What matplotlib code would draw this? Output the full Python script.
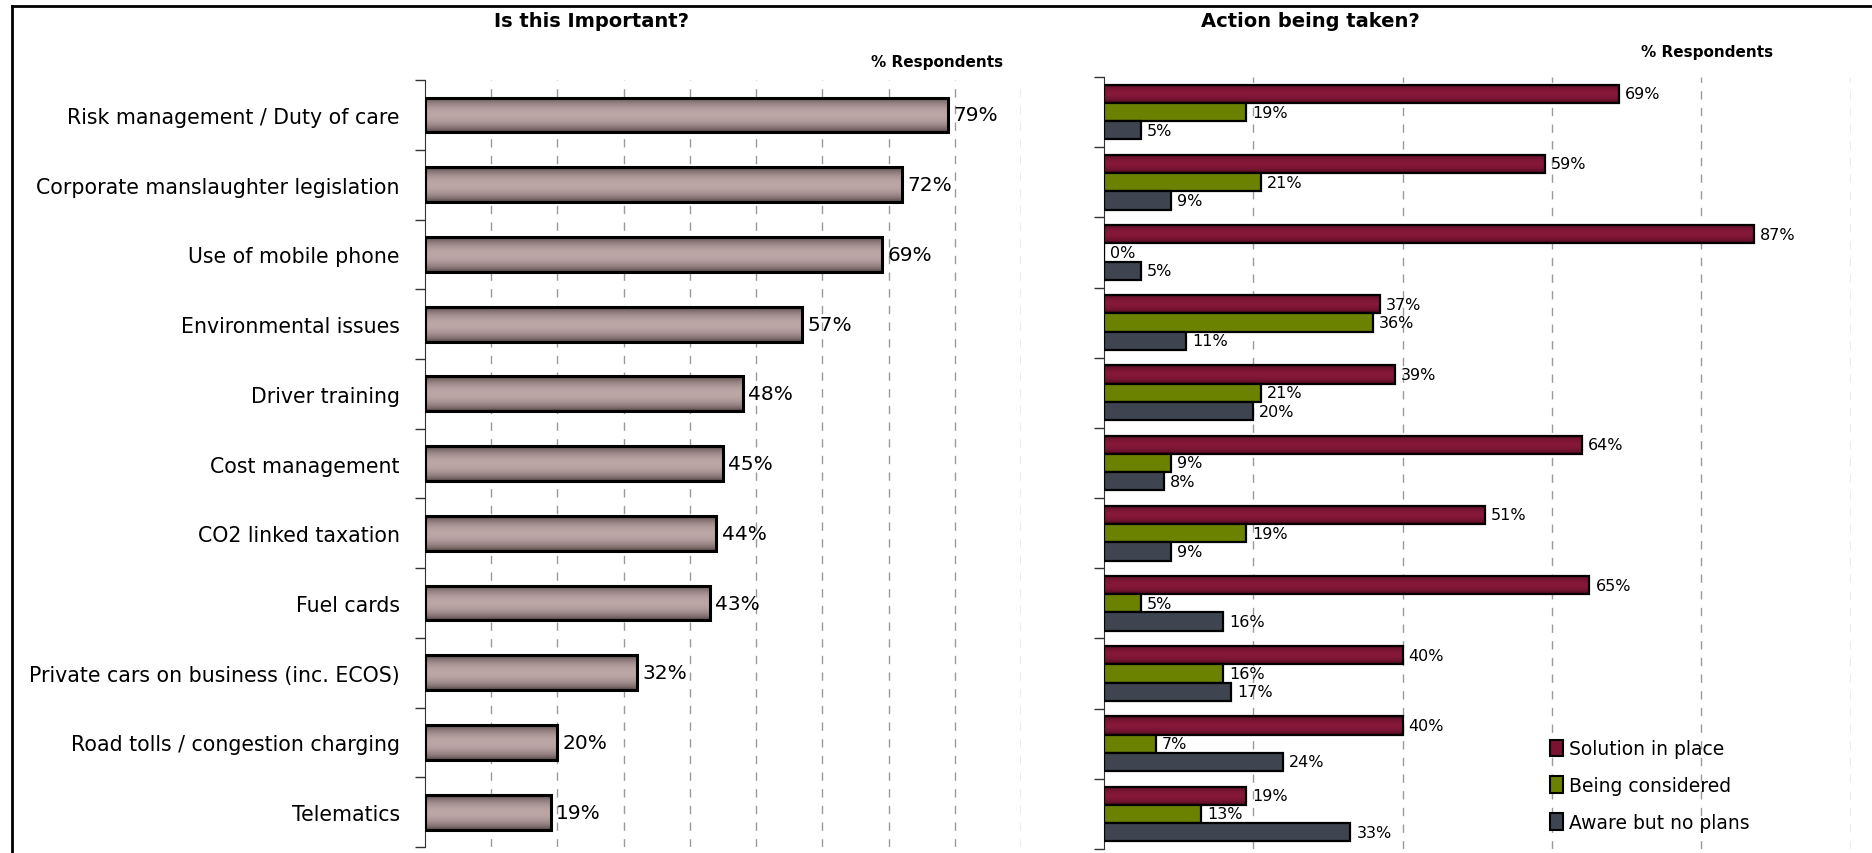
import numpy as np
import matplotlib
matplotlib.use('Agg')
import matplotlib.pyplot as plt
from matplotlib.patches import Rectangle
from matplotlib.lines import Line2D

plt.rcParams['font.family'] = ['Liberation Sans Narrow', 'DejaVu Sans']

# Survey data, in % of respondents
categories = ['Risk management / Duty of care', 'Corporate manslaughter legislation',
              'Use of mobile phone', 'Environmental issues', 'Driver training',
              'Cost management', 'CO2 linked taxation', 'Fuel cards',
              'Private cars on business (inc. ECOS)', 'Road tolls / congestion charging',
              'Telematics']
importance = [79, 72, 69, 57, 48, 45, 44, 43, 32, 20, 19]
solution_in_place = [69, 59, 87, 37, 39, 64, 51, 65, 40, 40, 19]
being_considered = [19, 21, 0, 36, 21, 9, 19, 5, 16, 7, 13]
no_plans = [5, 9, 5, 11, 20, 8, 9, 16, 17, 24, 33]
series_names = ['Solution in place', 'Being considered', 'Aware but no plans']

RED = '#7b1230'
GREEN = '#6a8200'
SLATE = '#3e4550'


def gradient(dark, light, n=64, power=0.6):
    # vertical shading: dark at the edges, light in the middle
    t = np.linspace(0, 1, n)
    f = np.sin(np.pi * t) ** power
    d = np.array(matplotlib.colors.to_rgb(dark))
    l = np.array(matplotlib.colors.to_rgb(light))
    return (d[None, :] * (1 - f[:, None]) + l[None, :] * f[:, None])[:, None, :]


def shaded_bar(ax, y, width, height, dark, light, lw=1.6):
    if width <= 0:
        return
    ax.imshow(gradient(dark, light), extent=[0, width, y + height / 2, y - height / 2],
              aspect='auto', interpolation='bilinear', zorder=2)
    ax.add_patch(Rectangle((0, y - height / 2), width, height, fill=False,
                           edgecolor='black', lw=lw, zorder=3))


def style_axes(ax, xmax, step):
    n = len(categories)
    ax.set_xlim(0, xmax)
    ax.set_ylim(n - 0.5, -0.5)
    for s in ['top', 'right', 'bottom']:
        ax.spines[s].set_visible(False)
    ax.spines['left'].set_color('#333333')
    ax.set_xticks(np.arange(step, xmax + 0.1, step))
    ax.tick_params(axis='x', length=0, labelbottom=False)
    ax.xaxis.grid(True, linestyle=(0, (6, 6)), color='#9a9a9a', lw=1.0)
    ax.set_axisbelow(True)
    ax.set_yticks(np.arange(-0.5, n, 1.0), minor=True)
    ax.tick_params(axis='y', which='minor', length=7, width=1, color='#333333')


fig = plt.figure(figsize=(18.72, 8.54), dpi=100)

# frame along top and left edges of the figure
fig.add_artist(Line2D([0.0064, 1.0], [0.9918, 0.9918], color='black', lw=2))
fig.add_artist(Line2D([0.0064, 0.0064], [0.0, 0.9918], color='black', lw=2))

# Left: importance
ax1 = fig.add_axes([0.227, 0.007, 0.3184, 0.898])
y = np.arange(len(categories))
for yi, v in zip(y, importance):
    shaded_bar(ax1, yi, v, 0.5, '#463838', '#bca6a6', lw=2.2)
    ax1.text(v + 0.8, yi, f'{v}%', va='center', ha='left', fontsize=14.5)
style_axes(ax1, 90, 10)
ax1.set_yticks(y)
ax1.set_yticklabels(categories, fontsize=14.8)
ax1.tick_params(axis='y', which='major', length=0, pad=18)
fig.text(0.316, 0.975, 'Is this Important?', ha='center', va='center',
         fontsize=14, fontweight='bold')
fig.text(0.536, 0.927, '% Respondents', ha='right', va='center',
         fontsize=11, fontweight='bold')

# Right: action being taken
ax2 = fig.add_axes([0.5897, 0.0047, 0.399, 0.904])
bh = 0.26
offsets = [-bh, 0, bh]
series = [solution_in_place, being_considered, no_plans]
for k, (vals, off) in enumerate(zip(series, offsets)):
    for yi, v in zip(y, vals):
        if k == 0:
            shaded_bar(ax2, yi + off, v, bh, '#3e0616', '#86183a', lw=1.6)
        else:
            ax2.barh(yi + off, v, height=bh, color=[GREEN, SLATE][k - 1],
                     edgecolor='black', lw=1.6, zorder=3)
        ax2.text(v + 0.8, yi + off, f'{v}%', va='center', ha='left', fontsize=11.5)
style_axes(ax2, 100, 20)
ax2.set_yticks([])
fig.text(0.700, 0.975, 'Action being taken?', ha='center', va='center',
         fontsize=14, fontweight='bold')
fig.text(0.947, 0.939, '% Respondents', ha='right', va='center',
         fontsize=11, fontweight='bold')

handles = [Rectangle((0, 0), 1, 1, facecolor=c, edgecolor='black', lw=1.5)
           for c in [RED, GREEN, SLATE]]
ax2.legend(handles, series_names, loc='lower left', bbox_to_anchor=(0.575, 0.0),
           frameon=False, fontsize=13.5, handlelength=0.7, handleheight=1.0,
           handletextpad=0.3, labelspacing=0.95)

fig.savefig('out.png', dpi=100)
